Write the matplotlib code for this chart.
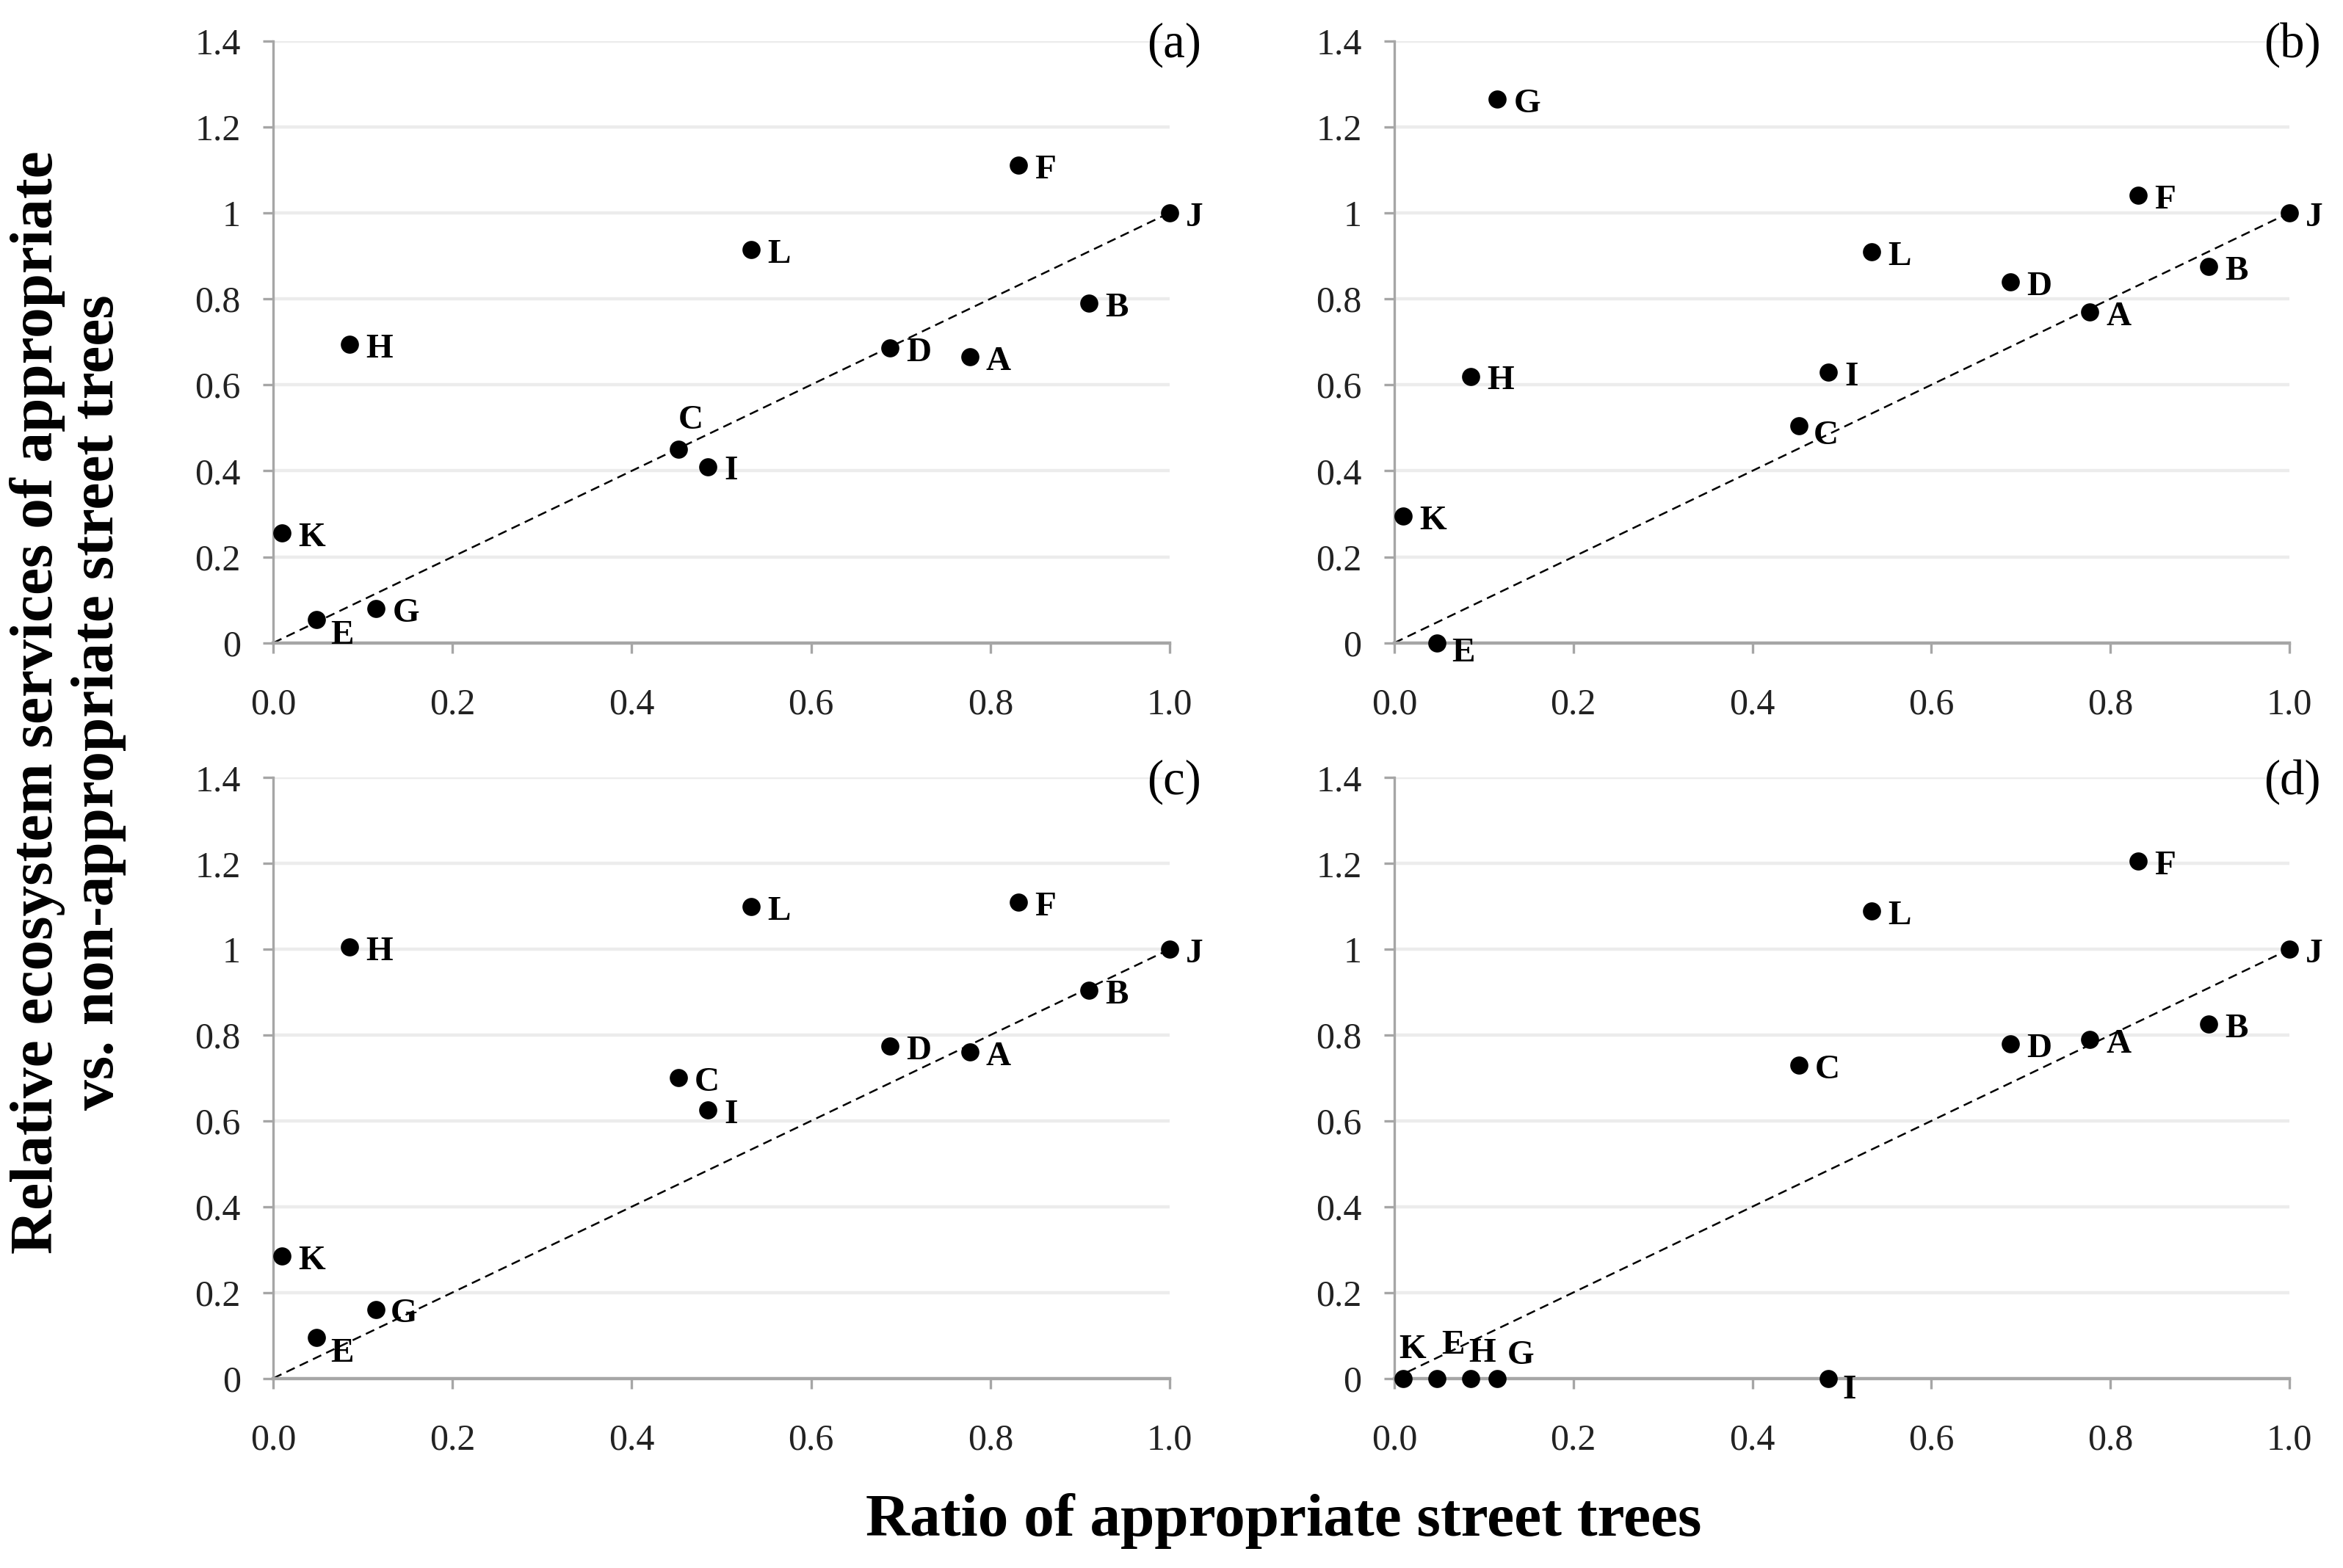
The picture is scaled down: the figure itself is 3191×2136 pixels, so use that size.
import numpy as np
import matplotlib
matplotlib.use("Agg")
import matplotlib.pyplot as plt

plt.rcParams['font.family'] = ['Liberation Serif', 'DejaVu Serif']

# ratio of appropriate street trees (same for every panel)
sites = ['A', 'B', 'C', 'D', 'E', 'F', 'G', 'H', 'I', 'J', 'K', 'L']
ratio = [0.777, 0.910, 0.452, 0.688, 0.048, 0.831, 0.115, 0.085, 0.485, 1.0, 0.010, 0.533]

# relative ecosystem services, one list per panel
rel_a = [0.665, 0.790, 0.450, 0.685, 0.055, 1.110, 0.080, 0.695, 0.410, 1.0, 0.255, 0.915]
rel_b = [0.770, 0.875, 0.505, 0.840, 0.000, 1.040, 1.265, 0.620, 0.630, 1.0, 0.295, 0.910]
rel_c = [0.760, 0.905, 0.700, 0.775, 0.095, 1.110, 0.160, 1.005, 0.625, 1.0, 0.285, 1.100]
rel_d = [0.790, 0.825, 0.730, 0.780, 0.000, 1.205, 0.000, 0.000, 0.000, 1.0, 0.000, 1.090]

panels = ['(a)', '(b)', '(c)', '(d)']
series = [rel_a, rel_b, rel_c, rel_d]

yticks = [0, 0.2, 0.4, 0.6, 0.8, 1.0, 1.2, 1.4]
ytick_labels = ['0', '0.2', '0.4', '0.6', '0.8', '1', '1.2', '1.4']
xticks = [0.0, 0.2, 0.4, 0.6, 0.8, 1.0]
xtick_labels = ['0.0', '0.2', '0.4', '0.6', '0.8', '1.0']

# label offsets in points (default right of the dot)
default_off = (8, -2.5)
special_off = {
    0: {'C': (0, 14), 'E': (7, -8)},
    1: {'C': (7, -5), 'E': (7, -5)},
    2: {'E': (7, -8), 'G': (7, -2)},
    3: {'K': (-2, 14), 'E': (2, 16), 'H': (-1, 12), 'G': (5, 11), 'I': (7, -6)},
}

fig = plt.figure(figsize=(15.955, 10.68), dpi=200)
boxes = [
    [0.1166, 0.590, 0.3826, 0.384],
    [0.5951, 0.590, 0.3820, 0.384],
    [0.1166, 0.121, 0.3826, 0.383],
    [0.5951, 0.121, 0.3820, 0.383],
]

axis_grey = '#a6a6a6'
grid_grey = '#ececec'

for i, (box, vals, name) in enumerate(zip(boxes, series, panels)):
    ax = fig.add_axes(box)
    ax.set_xlim(0, 1.0)
    ax.set_ylim(0, 1.4)
    for y in yticks[1:]:
        ax.axhline(y, color=grid_grey, lw=1.6, zorder=0)
    ax.plot([0, 1], [0, 1], ls=(0, (5, 3)), color='black', lw=0.9, zorder=2)
    ax.scatter(ratio, vals, s=62, color='black', zorder=3, clip_on=False)
    for s, x, y in zip(sites, ratio, vals):
        off = special_off[i].get(s, default_off)
        ax.annotate(s, (x, y), xytext=off, textcoords='offset points',
                    ha='left', va='center', fontsize=17, fontweight='bold',
                    annotation_clip=False)
    ax.set_xticks(xticks)
    ax.set_xticklabels(xtick_labels)
    ax.set_yticks(yticks)
    ax.set_yticklabels(ytick_labels)
    ax.tick_params(axis='both', labelsize=18, colors=axis_grey, labelcolor='#222222',
                   length=5, width=1.2)
    ax.tick_params(axis='x', pad=17)
    ax.tick_params(axis='y', pad=11)
    for side in ['top', 'right']:
        ax.spines[side].set_visible(False)
    ax.spines['left'].set_color(axis_grey)
    ax.spines['bottom'].set_color(axis_grey)
    ax.spines['left'].set_linewidth(1.2)
    ax.spines['bottom'].set_linewidth(1.6)
    ax.text(1.035, 1.39, name, transform=ax.transData, ha='right', va='center',
            fontsize=24)

fig.text(0.548, 0.030, 'Ratio of appropriate street trees', ha='center', va='center',
         fontsize=30, fontweight='bold')
fig.text(0.029, 0.552, 'Relative ecosystem services of appropriate\nvs. non-appropriate street trees',
         ha='center', va='center', rotation=90, fontsize=30, fontweight='bold',
         linespacing=1.15)

fig.savefig('out.png', dpi=200)
